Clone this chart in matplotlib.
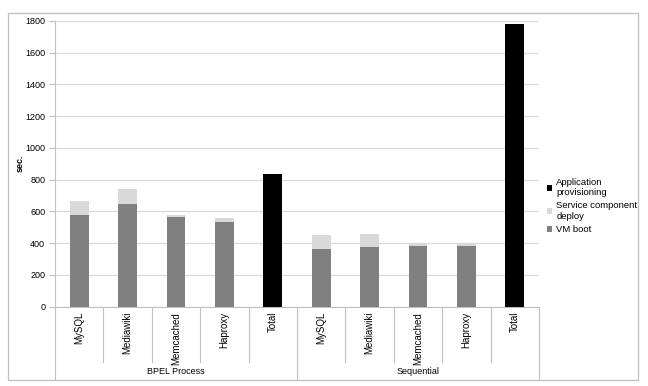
import numpy as np
import matplotlib
matplotlib.use("Agg")
import matplotlib.pyplot as plt
from matplotlib.patches import Rectangle
from matplotlib.lines import Line2D

plt.rcParams["font.family"] = ["Liberation Sans", "DejaVu Sans"]

groups = ["BPEL Process", "Sequential"]
components = ["MySQL", "Mediawiki", "Memcached", "Haproxy", "Total"]

# values per slot (BPEL x5, Sequential x5)
vm_boot = [579, 649, 565, 535, 0, 364, 375, 385, 381, 0]
service_deploy = [84, 92, 14, 21, 0, 89, 84, 13, 14, 0]
app_provisioning = [0, 0, 0, 0, 834, 0, 0, 0, 0, 1780]

C_VM = "#808080"
C_SVC = "#d9d9d9"
C_APP = "#000000"
GRID = "#d9d9d9"
LINE = "#bfbfbf"
FS = 6.5

W, H = 648, 386
fig = plt.figure(figsize=(W / 100, H / 100), dpi=100)

# pixel geometry of plot area
x0, x1 = 55, 539
y_top, y_bot = 21, 306.7
ax = fig.add_axes([x0 / W, 1 - y_bot / H, (x1 - x0) / W, (y_bot - y_top) / H])

n = len(vm_boot)
x = np.arange(n)
bw = 0.39
vm = np.array(vm_boot)
svc = np.array(service_deploy)
app = np.array(app_provisioning)
ax.bar(x, vm, bw, color=C_VM, zorder=3, label="VM boot")
ax.bar(x, svc, bw, bottom=vm, color=C_SVC, zorder=3, label="Service component\ndeploy")
ax.bar(x, app, bw, bottom=vm + svc, color=C_APP, zorder=3, label="Application\nprovisioning")

ax.set_xlim(-0.5, n - 0.5)
ax.set_ylim(0, 1800)
ax.set_yticks(np.arange(0, 1801, 200))
ax.yaxis.grid(True, color=GRID, lw=0.9, zorder=0)
ax.set_xticks([])
ax.tick_params(axis="y", labelsize=FS, length=4, color=LINE, width=0.8, pad=3)
for s in ["top", "right"]:
    ax.spines[s].set_visible(False)
ax.spines["left"].set_color(LINE)
ax.spines["bottom"].set_color(LINE)
ax.spines["left"].set_linewidth(0.8)
ax.spines["bottom"].set_linewidth(0.8)


def fy(py):
    return 1 - py / H


fig.text(20 / W, fy(163), "sec.", rotation=90, ha="center", va="center",
         fontsize=FS, fontweight="bold")

# multi-level category axis drawn in pixel units
slot = (x1 - x0) / n
for i in range(n):
    cx = x0 + slot * (i + 0.5)
    fig.text(cx / W, fy(312), components[i % 5], rotation=90, ha="center", va="top",
             fontsize=7, color="#000000")
for i in range(n + 1):
    px = x0 + slot * i
    end = 380 if i % 5 == 0 else 362
    fig.add_artist(Line2D([px / W, px / W], [fy(y_bot), fy(end)], color=LINE, lw=0.8))
for g, name in enumerate(groups):
    cx = x0 + slot * (5 * g + 2.5)
    fig.text(cx / W, fy(372), name, ha="center", va="center", fontsize=FS)

# legend
handles, labels = ax.get_legend_handles_labels()
leg = fig.legend(handles[::-1], labels[::-1], loc="upper left",
                 bbox_to_anchor=(543 / W, fy(174)), frameon=False, fontsize=6.8,
                 handlelength=0.6, handleheight=0.6, handletextpad=0.4,
                 labelspacing=0.45, borderaxespad=0)

# outer chart border
fig.add_artist(Rectangle((8 / W, fy(380)), (638 - 8) / W, (380 - 13) / H,
                         transform=fig.transFigure, fill=False, ec=LINE, lw=0.9))

fig.savefig("out.png", dpi=100)
